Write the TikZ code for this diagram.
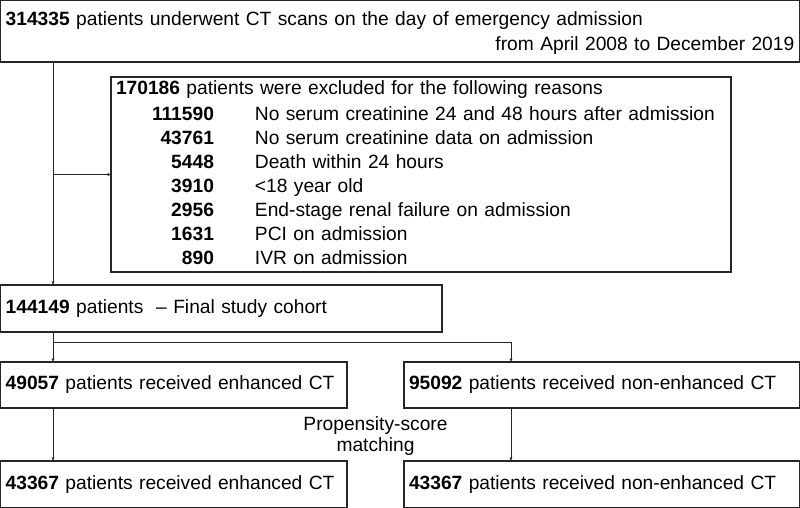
\documentclass[tikz,border=0pt]{standalone}
\usepackage{fontspec}
\setmainfont{Liberation Sans}
\usetikzlibrary{arrows.meta}
\newcommand{\fs}{\fontsize{19.2}{24}\selectfont}
\tikzset{
  box/.style={draw=black!85, line width=1.3pt, outer sep=0pt, inner xsep=5pt, inner ysep=0pt,
    anchor=north west, align=left, font=\fs},
  arr/.style={draw=black!85, line width=1pt, -{Latex[length=3.5pt,width=3.5pt]}},
  ln/.style={draw=black!85, line width=1pt}
}
\begin{document}
\begin{tikzpicture}[x=1pt,y=-1pt]
\useasboundingbox (0,0) rectangle (800,508);
% boxes
\node[box, text width=788.6pt, minimum height=61.3pt] (b1) at (0.7,0.7)
  {\rule{0pt}{17pt}\textbf{314335} patients underwent CT scans on the day of emergency admission\\[1pt]
   \hspace*{\fill}from April 2008 to December 2019};
\node[box, text width=610pt, minimum height=195pt] (b2) at (111,77)
  {\begin{tabular}{@{\hspace{36pt}}r@{\hspace{41pt}}l@{}}
   \multicolumn{2}{@{}l@{}}{\textbf{170186} patients were excluded for the following reasons}\\[2.2pt]
   \textbf{111590} & No serum creatinine 24 and 48 hours after admission\\
   \textbf{43761} & No serum creatinine data on admission\\
   \textbf{5448} & Death within 24 hours\\
   \textbf{3910} & <18 year old\\
   \textbf{2956} & End-stage renal failure on admission\\
   \textbf{1631} & PCI on admission\\
   \textbf{890} & IVR on admission
   \end{tabular}};
\node[box, text width=431.3pt, minimum height=47pt] (b3) at (0.7,285)
  {\textbf{144149} patients\ \ – Final study cohort};
\node[box, text width=336.3pt, minimum height=46pt] (b4) at (0.7,362)
  {\textbf{49057} patients received enhanced CT};
\node[box, text width=385.3pt, minimum height=46pt] (b5) at (404,362)
  {\textbf{95092} patients received non-enhanced CT};
\node[box, text width=336.3pt, minimum height=46.3pt] (b6) at (0.7,461)
  {\textbf{43367} patients received enhanced CT};
\node[box, text width=385.3pt, minimum height=46.3pt] (b7) at (404,461)
  {\textbf{43367} patients received non-enhanced CT};
\node[font=\fontsize{19.2}{21}\selectfont, align=center, inner sep=0pt] (psm) at (375.5,436)
  {Propensity-score\\matching};
% connectors
\coordinate (trunk) at (53,0);
\coordinate (rtrunk) at (511,0);
\coordinate (split) at (53,342);
\draw[arr] (trunk |- b1.south) -- (trunk |- b3.north);
\draw[arr] (trunk |- b2.west) -- (b2.west);
\draw[arr] (trunk |- b3.south) -- (trunk |- b4.north);
\draw[arr] (split) -| (rtrunk |- b5.north);
\draw[arr] (trunk |- b4.south) -- (trunk |- b6.north);
\draw[arr] (rtrunk |- b5.south) -- (rtrunk |- b7.north);
\end{tikzpicture}
\end{document}
